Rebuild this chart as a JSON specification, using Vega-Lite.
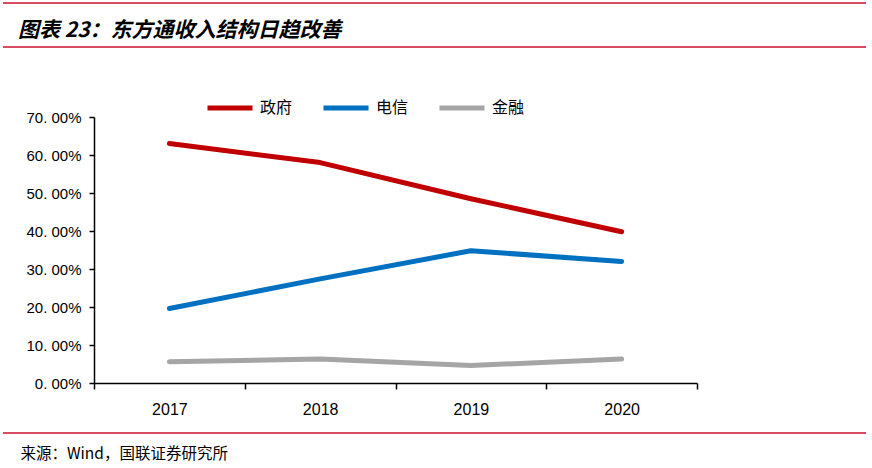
{
  "$schema": "https://vega.github.io/schema/vega-lite/v6.json",
  "width": 603,
  "height": 266,
  "autosize": {"type": "none"},
  "padding": {"left": 94, "top": 117, "right": 175, "bottom": 85},
  "background": "white",
  "config": {"view": {"stroke": null}, "font": "Liberation Sans"},
  "title": {
    "text": "图表 23：东方通收入结构日趋改善",
    "anchor": "start",
    "frame": "group",
    "orient": "top",
    "dx": -76,
    "offset": 0,
    "dy": 39,
    "font": "Noto Sans CJK SC",
    "fontSize": 21,
    "fontWeight": "bold",
    "fontStyle": "italic",
    "color": "black"
  },
  "layer": [
    {
      "data": {
        "values": [
          {"year": "2017", "series": "政府", "value": 63.0},
          {"year": "2018", "series": "政府", "value": 58.0},
          {"year": "2019", "series": "政府", "value": 48.5},
          {"year": "2020", "series": "政府", "value": 39.8},
          {"year": "2017", "series": "电信", "value": 19.6},
          {"year": "2018", "series": "电信", "value": 27.4},
          {"year": "2019", "series": "电信", "value": 34.8},
          {"year": "2020", "series": "电信", "value": 32.0},
          {"year": "2017", "series": "金融", "value": 5.6},
          {"year": "2018", "series": "金融", "value": 6.3},
          {"year": "2019", "series": "金融", "value": 4.6},
          {"year": "2020", "series": "金融", "value": 6.3}
        ]
      },
      "mark": {"type": "line", "strokeWidth": 5, "strokeCap": "round", "strokeJoin": "round"},
      "encoding": {
        "x": {
          "field": "year",
          "type": "nominal",
          "scale": {"type": "band", "paddingInner": 0, "paddingOuter": 0},
          "axis": {
            "title": "来源：Wind，国联证券研究所",
            "titleFont": "Noto Sans CJK SC",
            "titleFontSize": 15.5,
            "titleFontWeight": "normal",
            "titleColor": "black",
            "titleAnchor": "start",
            "titleAlign": "left",
            "titleBaseline": "middle",
            "titleX": -74,
            "titleY": 70,
            "labelAngle": 0,
            "labelFont": "Liberation Sans",
            "labelFontSize": 16,
            "labelColor": "black",
            "labelPadding": 12,
            "tickBand": "extent",
            "tickSize": 6,
            "tickColor": "black",
            "tickWidth": 1.5,
            "domainColor": "black",
            "domainWidth": 1.5,
            "grid": false
          }
        },
        "y": {
          "field": "value",
          "type": "quantitative",
          "scale": {"domain": [0, 70], "nice": false},
          "axis": {
            "title": null,
            "values": [0, 10, 20, 30, 40, 50, 60, 70],
            "labelExpr": "replace(format(datum.value, '.2f'), '.', '. ') + '%'",
            "labelFont": "Liberation Sans",
            "labelFontSize": 15,
            "labelColor": "black",
            "labelPadding": 8,
            "tickSize": 5,
            "tickColor": "black",
            "tickWidth": 1.5,
            "domainColor": "black",
            "domainWidth": 1.5,
            "grid": false
          }
        },
        "color": {
          "field": "series",
          "type": "nominal",
          "scale": {"domain": ["政府", "电信", "金融"], "range": ["#C00000", "#0070C0", "#A5A5A5"]},
          "legend": {
            "title": null,
            "orient": "none",
            "direction": "horizontal",
            "legendX": 111,
            "legendY": -34,
            "symbolType": "stroke",
            "symbolSize": 2025,
            "symbolStrokeWidth": 5,
            "labelFont": "Noto Sans CJK SC",
            "labelFontSize": 16,
            "labelColor": "black",
            "labelOffset": 5,
            "columnPadding": 20
          }
        }
      }
    },
    {
      "data": {"values": [{"name": "top1"}]},
      "mark": {"type": "rule", "color": "#C8102E", "strokeWidth": 1.5},
      "encoding": {"x": {"value": -91}, "x2": {"value": 772}, "y": {"value": -114}}
    },
    {
      "data": {"values": [{"name": "top2"}]},
      "mark": {"type": "rule", "color": "#C8102E", "strokeWidth": 1.5},
      "encoding": {"x": {"value": -91}, "x2": {"value": 772}, "y": {"value": -70}}
    },
    {
      "data": {"values": [{"name": "bottom"}]},
      "mark": {"type": "rule", "color": "#C8102E", "strokeWidth": 1.5},
      "encoding": {"x": {"value": -91}, "x2": {"value": 772}, "y": {"value": 316}}
    }
  ]
}
